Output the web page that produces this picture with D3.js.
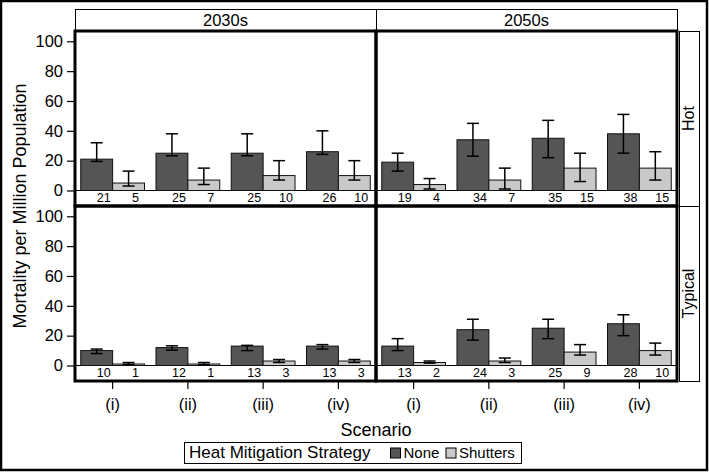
<!DOCTYPE html>
<html>
<head>
	<script src="https://cdn.jsdelivr.net/npm/d3@7/dist/d3.min.js"></script>
	<style>
		html, body {
			padding: 0;
			margin: 0;
			background: #fff;
		}
		text {
			font-family: "Liberation Sans", Arial, sans-serif;
			fill: #000;
		}
	</style>
</head>
<body>
	<script>
		var width = 709, height = 473;

		// categories
		var periods = ['2030s', '2050s'];
		var climates = ['Hot', 'Typical'];
		var scenarios = ['(i)', '(ii)', '(iii)', '(iv)'];
		var strategies = ['None', 'Shutters'];
		var yTicks = [0, 20, 40, 60, 80, 100];

		// Hot, 2030s
		var hot2030None = [21, 25, 25, 26];
		var hot2030NoneLow = [19.5, 23.3, 23.3, 24.2];
		var hot2030NoneHigh = [32, 38, 38, 40];
		var hot2030Shut = [5, 7, 10, 10];
		var hot2030ShutLow = [3, 4, 7, 7];
		var hot2030ShutHigh = [13, 15, 20, 20];

		// Hot, 2050s
		var hot2050None = [19, 34, 35, 38];
		var hot2050NoneLow = [13, 23, 22, 25];
		var hot2050NoneHigh = [25, 45, 47, 51];
		var hot2050Shut = [4, 7, 15, 15];
		var hot2050ShutLow = [1, 1, 6, 7];
		var hot2050ShutHigh = [8, 15, 25, 26];

		// Typical, 2030s
		var typ2030None = [10, 12, 13, 13];
		var typ2030NoneLow = [8, 10.3, 10, 11];
		var typ2030NoneHigh = [11, 13.2, 13.5, 14];
		var typ2030Shut = [1, 1, 3, 3];
		var typ2030ShutLow = [0.7, 0.5, 2, 2];
		var typ2030ShutHigh = [2, 2, 4, 4];

		// Typical, 2050s
		var typ2050None = [13, 24, 25, 28];
		var typ2050NoneLow = [10, 17, 18, 20];
		var typ2050NoneHigh = [18, 31, 31, 34];
		var typ2050Shut = [2, 3, 9, 10];
		var typ2050ShutLow = [1.6, 2, 7, 7];
		var typ2050ShutHigh = [3, 5, 14, 15];

		var fills = {'None': '#555555', 'Shutters': '#c9c9c9'};

		// build rows per panel from the arrays above
		function panelRows(none, noneLo, noneHi, shut, shutLo, shutHi) {
			var rows = [];
			scenarios.forEach(function(s, i) {
				rows.push({scenario: s, strategy: 'None', value: none[i], low: noneLo[i], high: noneHi[i]});
				rows.push({scenario: s, strategy: 'Shutters', value: shut[i], low: shutLo[i], high: shutHi[i]});
			});
			return rows;
		}

		var panels = [
			{period: '2030s', climate: 'Hot', rows: panelRows(hot2030None, hot2030NoneLow, hot2030NoneHigh, hot2030Shut, hot2030ShutLow, hot2030ShutHigh)},
			{period: '2050s', climate: 'Hot', rows: panelRows(hot2050None, hot2050NoneLow, hot2050NoneHigh, hot2050Shut, hot2050ShutLow, hot2050ShutHigh)},
			{period: '2030s', climate: 'Typical', rows: panelRows(typ2030None, typ2030NoneLow, typ2030NoneHigh, typ2030Shut, typ2030ShutLow, typ2030ShutHigh)},
			{period: '2050s', climate: 'Typical', rows: panelRows(typ2050None, typ2050NoneLow, typ2050NoneHigh, typ2050Shut, typ2050ShutLow, typ2050ShutHigh)}
		];

		var svg = d3.select('body').append('svg')
			.attr('width', width)
			.attr('height', height);

		svg.append('rect')
			.attr('width', width).attr('height', height)
			.attr('fill', '#fff');

		var colX = d3.scaleBand().domain(periods).range([75, 677]);
		var rowY = d3.scaleBand().domain(climates).range([31, 381]);

		// column headers
		periods.forEach(function(p) {
			svg.append('rect')
				.attr('x', colX(p) + 0.5).attr('y', 9.5)
				.attr('width', colX.bandwidth()).attr('height', 21.5)
				.attr('fill', '#fff').attr('stroke', '#000').attr('stroke-width', 1);
			svg.append('text')
				.attr('x', colX(p) + colX.bandwidth() / 2).attr('y', 26)
				.attr('text-anchor', 'middle')
				.style('font-size', '16.5px')
				.text(p);
		});

		// row headers
		climates.forEach(function(c) {
			svg.append('rect')
				.attr('x', 679.5).attr('y', rowY(c) + 0.5)
				.attr('width', 20).attr('height', rowY.bandwidth())
				.attr('fill', '#fff').attr('stroke', '#000').attr('stroke-width', 1);
			var cy = rowY(c) + rowY.bandwidth() / 2;
			svg.append('text')
				.attr('transform', 'translate(688.5,' + cy + ') rotate(-90)')
				.attr('text-anchor', 'middle')
				.attr('dy', '0.35em')
				.style('font-size', '16px')
				.text(c);
		});

		panels.forEach(function(pn) {
			var x0 = colX(pn.period), w = colX.bandwidth();
			var y0 = rowY(pn.climate), h = rowY.bandwidth();
			var zero = y0 + 159.5;

			var y = d3.scaleLinear().domain([0, 100]).range([zero, zero - 149.2]);
			var xS = d3.scaleBand().domain(scenarios).range([x0, x0 + w]);
			var xG = d3.scaleBand().domain(strategies).range([0, xS.bandwidth()]).paddingOuter(0.18);

			var g = svg.append('g');

			g.append('line')
				.attr('x1', x0).attr('x2', x0 + w)
				.attr('y1', y(0)).attr('y2', y(0))
				.attr('stroke', '#000').attr('stroke-width', 1);

			g.selectAll('rect.bar').data(pn.rows).enter().append('rect')
				.attr('class', 'bar')
				.attr('x', function(d) { return xS(d.scenario) + xG(d.strategy); })
				.attr('y', function(d) { return y(d.value); })
				.attr('width', xG.bandwidth())
				.attr('height', function(d) { return y(0) - y(d.value); })
				.attr('fill', function(d) { return fills[d.strategy]; })
				.attr('stroke', '#111').attr('stroke-width', 1);

			var cx = function(d) { return xS(d.scenario) + xG(d.strategy) + xG.bandwidth() / 2; };

			g.selectAll('line.err').data(pn.rows).enter().append('line')
				.attr('x1', cx).attr('x2', cx)
				.attr('y1', function(d) { return y(d.low); })
				.attr('y2', function(d) { return y(d.high); })
				.attr('stroke', '#000').attr('stroke-width', 1.5);
			['low', 'high'].forEach(function(k) {
				g.selectAll('line.cap' + k).data(pn.rows).enter().append('line')
					.attr('x1', function(d) { return cx(d) - 6; })
					.attr('x2', function(d) { return cx(d) + 6; })
					.attr('y1', function(d) { return y(d[k]); })
					.attr('y2', function(d) { return y(d[k]); })
					.attr('stroke', '#000').attr('stroke-width', 1.5);
			});

			g.selectAll('text.val').data(pn.rows).enter().append('text')
				.attr('x', function(d) { return cx(d) + 7; })
				.attr('y', y(0) + 11.5)
				.attr('text-anchor', 'middle')
				.style('font-size', '12.5px')
				.text(function(d) { return d.value; });

			// y axis on left column
			if (pn.period === periods[0]) {
				var ax = svg.append('g')
					.attr('transform', 'translate(' + x0 + ',0)')
					.call(d3.axisLeft(y).tickValues(yTicks).tickSize(8).tickPadding(4));
				ax.select('.domain').remove();
				ax.selectAll('line').attr('stroke', '#000').attr('stroke-width', 1.2);
				ax.selectAll('text').style('font-size', '16.5px').attr('fill', '#000');
			}

			// x axis on bottom row
			if (pn.climate === climates[climates.length - 1]) {
				var bx = svg.append('g')
					.attr('transform', 'translate(0,' + (y0 + h) + ')')
					.call(d3.axisBottom(xS).tickSize(8).tickPadding(9));
				bx.select('.domain').remove();
				bx.selectAll('line').attr('stroke', '#000').attr('stroke-width', 1.2);
				bx.selectAll('text').style('font-size', '16.5px').attr('fill', '#000');
			}
		});

		// panel frames on top of everything
		panels.forEach(function(pn) {
			svg.append('rect')
				.attr('x', colX(pn.period)).attr('y', rowY(pn.climate))
				.attr('width', colX.bandwidth()).attr('height', rowY.bandwidth())
				.attr('fill', 'none').attr('stroke', '#000').attr('stroke-width', 3);
		});

		// axis titles
		svg.append('text')
			.attr('transform', 'translate(20,' + ((31 + 381) / 2) + ') rotate(-90)')
			.attr('text-anchor', 'middle')
			.attr('dy', '0.35em')
			.style('font-size', '18px')
			.text('Mortality per Million Population');

		svg.append('text')
			.attr('x', (75 + 677) / 2).attr('y', 436)
			.attr('text-anchor', 'middle')
			.style('font-size', '18px')
			.text('Scenario');

		// legend
		var leg = svg.append('g');
		leg.append('rect')
			.attr('x', 184.5).attr('y', 442.5)
			.attr('width', 337).attr('height', 21)
			.attr('fill', '#fff').attr('stroke', '#000').attr('stroke-width', 1);
		leg.append('text')
			.attr('x', 189).attr('y', 458)
			.style('font-size', '17px')
			.text('Heat Mitigation Strategy');
		var legX = {'None': 390.5, 'Shutters': 446};
		strategies.forEach(function(s) {
			leg.append('rect')
				.attr('x', legX[s]).attr('y', 448)
				.attr('width', 10).attr('height', 10)
				.attr('fill', fills[s]).attr('stroke', '#000').attr('stroke-width', 1);
			leg.append('text')
				.attr('x', legX[s] + 13).attr('y', 458)
				.style('font-size', '15px')
				.text(s);
		});

		// outer frame
		svg.append('rect')
			.attr('x', 1).attr('y', 1)
			.attr('width', 706).attr('height', 469)
			.attr('fill', 'none').attr('stroke', '#000').attr('stroke-width', 2.5);
	</script>
</body>
</html>
